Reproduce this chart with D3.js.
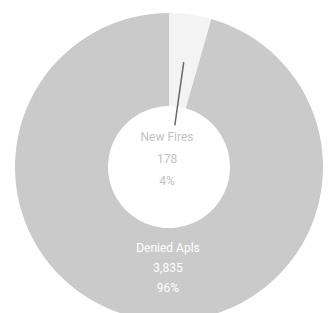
<!DOCTYPE html>
<html>
<head>
<meta charset="utf-8">
<script src="https://cdn.jsdelivr.net/npm/d3@7"></script>
<style>
  body { margin: 0; background: #fff; }
  svg { display: block; font-family: Roboto, "Open Sans", sans-serif; }
</style>
</head>
<body>
<div id="chart"></div>
<script>
const categories = ["New Fires", "Denied Apls"];
const counts = [178, 3835];
const labelLines = [["New Fires", "178", "4%"], ["Denied Apls", "3,835", "96%"]];

const width = 333, height = 313;
const cx = 169, cy = 167;
const outerR = 154, innerR = 61;

const svg = d3.select("#chart")
    .append("svg")
    .attr("width", width)
    .attr("height", height);

const g = svg.append("g")
    .attr("transform", `translate(${cx},${cy})`);

const color = d3.scaleOrdinal()
    .domain(categories)
    .range(["#f3f3f3", "#cacaca"]);

const pie = d3.pie()
    .sort(null)
    .value(d => d.value);

const data = categories.map((c, i) => ({name: c, value: counts[i], lines: labelLines[i]}));
const arcs = pie(data);

const arc = d3.arc()
    .innerRadius(innerR)
    .outerRadius(outerR);

g.selectAll("path.slice")
    .data(arcs)
    .enter()
    .append("path")
    .attr("class", "slice")
    .attr("d", arc)
    .style("fill", d => color(d.data.name));

// leader line for the small slice
const small = arcs[0];
const mid = (small.startAngle + small.endAngle) / 2;
const lineOuter = d3.arc().innerRadius(106).outerRadius(106);
const lineInner = d3.arc().innerRadius(42).outerRadius(42);
const p1 = lineOuter.centroid({startAngle: mid, endAngle: mid});
const p2 = lineInner.centroid({startAngle: mid, endAngle: mid});

g.append("line")
    .attr("x1", p1[0])
    .attr("y1", p1[1])
    .attr("x2", p2[0])
    .attr("y2", p2[1])
    .style("stroke", "#6a6a6a")
    .style("stroke-width", 1.5);

// New Fires label in the hole
const smallLabel = g.append("text")
    .attr("text-anchor", "middle")
    .style("font-size", "12px")
    .style("fill", "#c2c2c2");
small.data.lines.forEach((t, i) => {
    smallLabel.append("tspan")
        .attr("x", -2)
        .attr("y", -26 + i * 22)
        .text(t);
});

// Denied Apls label on the ring
const bigLabel = g.append("text")
    .attr("text-anchor", "middle")
    .style("font-size", "12px")
    .style("fill", "#ffffff");
arcs[1].data.lines.forEach((t, i) => {
    bigLabel.append("tspan")
        .attr("x", -1)
        .attr("y", 85 + i * 20)
        .text(t);
});
</script>
</body>
</html>
